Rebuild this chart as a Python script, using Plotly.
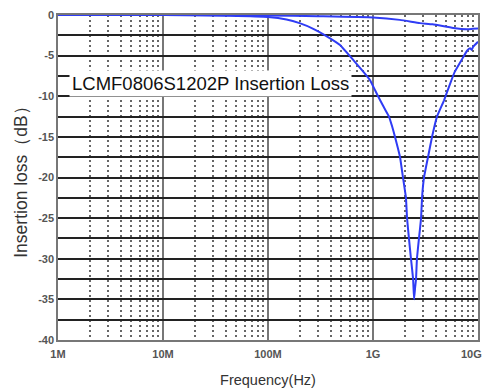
import plotly.graph_objects as go

# Curve A: deep notch (Hz, dB)
freq_a = [1e6, 1e7, 4.35e7, 1.0e8, 1.5e8, 2.0e8, 2.7e8, 3.5e8, 4.85e8, 6.75e8, 8.0e8, 9.35e8,
          1.05e9, 1.17e9, 1.3e9, 1.42e9, 1.52e9, 1.62e9, 1.72e9, 1.81e9, 1.93e9, 2.06e9,
          2.11e9, 2.2e9, 2.3e9, 2.41e9, 2.46e9, 2.52e9, 2.57e9, 2.62e9, 2.74e9, 2.87e9,
          2.93e9, 3.06e9, 3.34e9, 3.65e9, 4.07e9, 4.75e9, 5.41e9, 6.0e9, 7.0e9, 7.86e9,
          8.4e9, 8.7e9, 9.0e9, 1.0e10]
il_a = [0, 0, -0.1, -0.25, -0.55, -1.0, -1.7, -2.5, -3.7, -5.8, -6.9, -8.0,
        -9.3, -10.5, -11.6, -12.5, -13.7, -15, -16.3, -17.5, -20, -22.5,
        -25, -27.5, -30, -32.5, -35, -33.5, -32.5, -30, -27.5, -25,
        -22.5, -20, -17.5, -15, -12.5, -10.5, -8.5, -7.0, -5.5, -4.4,
        -4.1, -4.3, -3.9, -3.3]

# Curve B: shallow roll-off (Hz, dB)
freq_b = [1e6, 1e7, 1e8, 3e8, 1e9, 1.8e9, 2.8e9, 3.7e9, 5.8e9, 7.9e9, 8.9e9, 1e10]
il_b = [0, 0, -0.05, -0.15, -0.3, -0.6, -1.0, -1.15, -1.6, -1.75, -1.7, -1.65]

x_tickvals = [1e6, 1e7, 1e8, 1e9]
x_ticktext = ["1M", "10M", "100M", "1G"]
x_last_label = "10G"
x_minor = [m * 10 ** d for d in range(6, 10) for m in range(2, 10)]

y_tickvals = [-40 + 2.5 * i for i in range(17)]
y_ticktext = [str(int(v)) if v % 5 == 0 else "" for v in y_tickvals]

title_text = "LCMF0806S1202P Insertion Loss"

tick_font = dict(family="Liberation Sans, Arial, sans-serif", size=11, color="#555", weight="bold")

fig = go.Figure()
fig.add_trace(go.Scatter(x=freq_b, y=il_b, mode="lines",
                         line=dict(color="#2f3cf5", width=2, shape="spline", smoothing=0.4),
                         showlegend=False))
fig.add_trace(go.Scatter(x=freq_a, y=il_a, mode="lines",
                         line=dict(color="#2f3cf5", width=2, shape="spline", smoothing=0.3),
                         showlegend=False))

fig.update_layout(
    width=486, height=392,
    margin=dict(l=58, r=8, t=15, b=52),
    paper_bgcolor="white", plot_bgcolor="white",
    font=dict(family="Liberation Sans, Arial, sans-serif", color="#333"),
    xaxis=dict(
        type="log", range=[6, 10], automargin=False,
        tickvals=x_tickvals, ticktext=x_ticktext,
        tickfont=tick_font, ticklabelstandoff=3,
        showgrid=True, gridcolor="#777", gridwidth=1.5,
        minor=dict(tickvals=x_minor, showgrid=True, gridcolor="#666",
                   gridwidth=1.5, griddash="2px,3px", ticks=""),
        showline=True, linecolor="#777", linewidth=1.5, mirror=True,
        ticks="", zeroline=False,
        title=dict(text="Frequency(Hz)", font=dict(size=14.5, color="#333"), standoff=16),
    ),
    yaxis=dict(
        range=[-40, 0], automargin=False,
        tickvals=y_tickvals, ticktext=y_ticktext,
        tickfont=tick_font,
        showgrid=True, gridcolor="#222", gridwidth=2,
        showline=True, linecolor="#777", linewidth=1.5, mirror=True,
        ticks="", zeroline=False,
        title=dict(text="Insertion loss（dB）", font=dict(size=17.5, color="#333"), standoff=6),
    ),
    annotations=[
        dict(text=title_text, xref="paper", yref="paper",
             x=0.026, y=0.788, xanchor="left", yanchor="middle",
             showarrow=False, bgcolor="white", borderpad=2,
             font=dict(size=18.5, color="#111")),
        dict(text=x_last_label, xref="paper", yref="paper",
             x=1, y=0, xanchor="right", yanchor="top", xshift=6, yshift=-6,
             showarrow=False, font=tick_font),
    ],
)

fig.write_html("out.html", post_script="document.body.style.margin='0';",
               config={"displayModeBar": False})
